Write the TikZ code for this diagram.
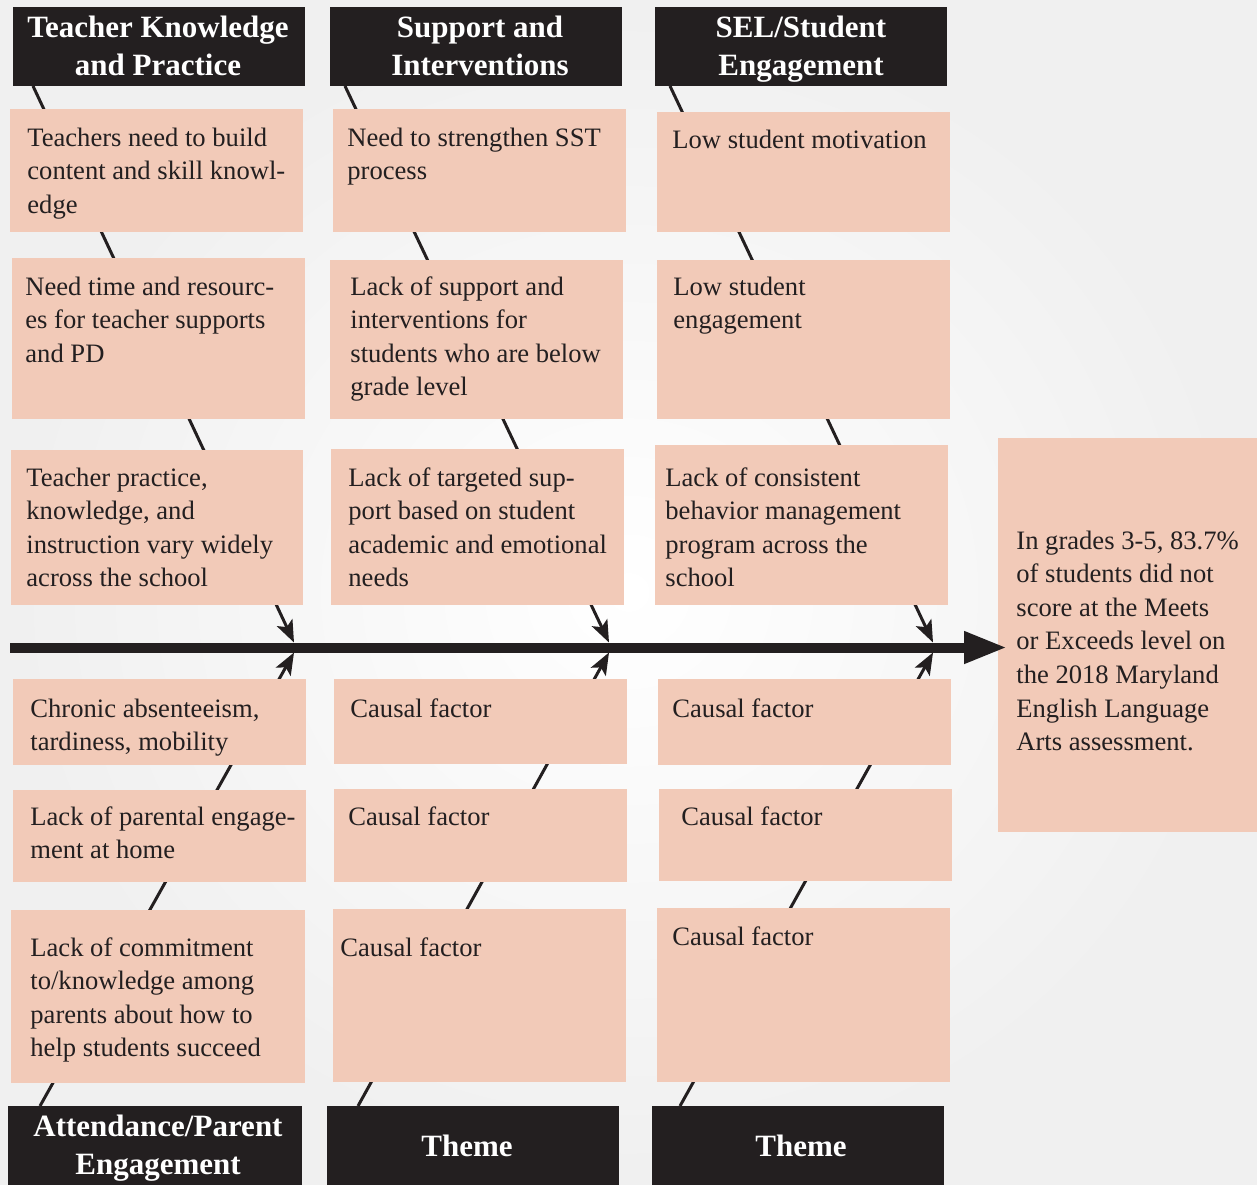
\documentclass[tikz,border=0pt]{standalone}
\usepackage{fontspec}
\setmainfont{Liberation Serif}
\usetikzlibrary{arrows.meta}
\definecolor{ink}{HTML}{231F20}
\definecolor{peach}{HTML}{F2CAB8}
\pgfdeclarelayer{back}\pgfdeclarelayer{bg}\pgfsetlayers{back,bg,main}
\newcommand\ml[1]{\begin{tabular}[t]{@{}l@{}}#1\end{tabular}}
\newcommand\mc[1]{\begin{tabular}[t]{@{}c@{}}#1\end{tabular}}
\newcommand\pbox[8]{%
  \node[box, minimum width={(#4-#2)*0.5pt}, minimum height={(#5-#3)*0.5pt}] (#1) at (#2,#3) {};
  \node[txt] (#1t) at (#6,#7) {\ml{#8}};}
\begin{document}
\begin{tikzpicture}[x=0.5pt,y=-0.5pt,
  box/.style={fill=peach, draw=none, inner sep=0, outer sep=0, anchor=north west},
  hdr/.style={fill=ink, draw=none, inner sep=0, outer sep=0, anchor=north west},
  txt/.style={inner sep=0, anchor=base west, text=ink, font=\fontsize{13.3}{16.8}\selectfont},
  htxt/.style={inner sep=0, anchor=base, text=white, font=\bfseries\fontsize{15.5}{19}\selectfont},
  bone/.style={ink, line width=1.5pt, -{Stealth[length=11pt,width=8.5pt,inset=2.5pt]}},
  spine/.style={ink, line width=5pt, -{Triangle[length=21.5pt,width=15pt]}}]
\useasboundingbox (0,0) rectangle (1257,1184);
\begin{pgfonlayer}{back}
\shade[inner color=white, outer color=gray!12] (0,0) rectangle (1257,1184);
\end{pgfonlayer}

% headers
\node[hdr, minimum width={292*0.5pt}, minimum height={79*0.5pt}] (h1) at (13,7) {};
\node[hdr, minimum width={292*0.5pt}, minimum height={79*0.5pt}] (h2) at (330,7) {};
\node[hdr, minimum width={292*0.5pt}, minimum height={79*0.5pt}] (h3) at (655,7) {};
\node[hdr, minimum width={294*0.5pt}, minimum height={90*0.5pt}] (k1) at (8,1106) {};
\node[hdr, minimum width={292*0.5pt}, minimum height={90*0.5pt}] (k2) at (327,1106) {};
\node[hdr, minimum width={292*0.5pt}, minimum height={90*0.5pt}] (k3) at (652,1106) {};
\node[htxt] (h1t) at (158,37) {\mc{Teacher Knowledge\\and Practice}};
\node[htxt] (h2t) at (480,37) {\mc{Support and\\Interventions}};
\node[htxt] (h3t) at (801,37) {\mc{SEL/Student\\Engagement}};
\node[htxt] (k1t) at (158,1136) {\mc{Attendance/Parent\\Engagement}};
\node[htxt] (k2t) at (467,1156) {Theme};
\node[htxt] (k3t) at (801,1156) {Theme};

% top boxes
\pbox{a1}{10}{109}{303}{232}{27}{146}{Teachers need to build\\content and skill knowl-\\edge}
\pbox{a2}{12}{258}{305}{419}{25}{295}{Need time and resourc-\\es for teacher supports\\and PD}
\pbox{a3}{11}{450}{303}{605}{26}{486}{Teacher practice,\\knowledge, and\\instruction vary widely\\across the school}
\pbox{b1}{333}{109}{626}{232}{347}{146}{Need to strengthen SST\\process}
\pbox{b2}{330}{260}{623}{419}{350}{295}{Lack of support and\\interventions for\\students who are below\\grade level}
\pbox{b3}{331}{449}{624}{605}{348}{486}{Lack of targeted sup-\\port based on student\\academic and emotional\\needs}
\pbox{c1}{657}{112}{950}{232}{672}{148}{Low student motivation}
\pbox{c2}{657}{260}{950}{419}{673}{295}{Low student\\engagement}
\pbox{c3}{655}{445}{948}{605}{665}{486}{Lack of consistent\\behavior management\\program across the\\school}
% bottom boxes
\pbox{d1}{13}{679}{306}{765}{30}{717}{Chronic absenteeism,\\tardiness, mobility}
\pbox{d2}{13}{790}{306}{882}{30}{825}{Lack of parental engage-\\ment at home}
\pbox{d3}{11}{910}{305}{1083}{30}{956}{Lack of commitment\\to/knowledge among\\parents about how to\\help students succeed}
\pbox{e1}{334}{679}{627}{764}{350}{717}{Causal factor}
\pbox{e2}{334}{789}{627}{882}{348}{825}{Causal factor}
\pbox{e3}{333}{909}{626}{1082}{340}{956}{Causal factor}
\pbox{f1}{658}{679}{951}{765}{672}{717}{Causal factor}
\pbox{f2}{659}{789}{952}{881}{681}{825}{Causal factor}
\pbox{f3}{657}{908}{950}{1082}{672}{945}{Causal factor}
% effect
\pbox{effect}{998}{438}{1257}{832}{1016}{549}{In grades 3-5, 83.7\%\\of students did not\\score at the Meets\\or Exceeds level on\\the 2018 Maryland\\English Language\\Arts assessment.}

% spine and bones
\coordinate (tail) at (10,647.5);
\coordinate (j1t) at (294,642.5); \coordinate (j1b) at (294,652.5);
\coordinate (j2t) at (609,642.5); \coordinate (j2b) at (609,652.5);
\coordinate (j3t) at (933,642.5); \coordinate (j3b) at (933,652.5);
\begin{pgfonlayer}{bg}
\draw[bone] ([xshift=10pt]h1.south west) -- (j1t);
\draw[bone] ([xshift=7.5pt]h2.south west) -- (j2t);
\draw[bone] ([xshift=7.5pt]h3.south west) -- (j3t);
\draw[bone] ([xshift=16pt]k1.north west) -- (j1b);
\draw[bone] ([xshift=15.5pt]k2.north west) -- (j2b);
\draw[bone] ([xshift=14pt]k3.north west) -- (j3b);
\end{pgfonlayer}
\draw[spine] (tail) -- ([xshift=4.5pt]effect.west |- tail);
\end{tikzpicture}
\end{document}
